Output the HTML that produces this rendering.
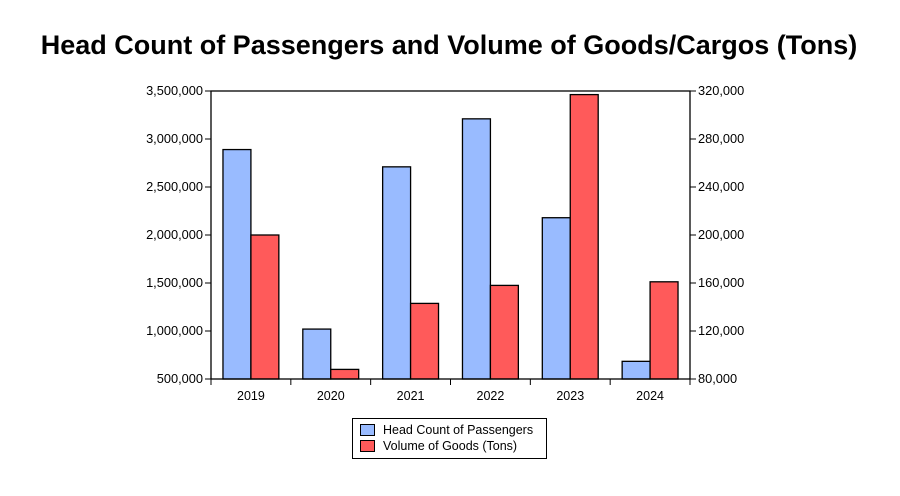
<!DOCTYPE html>
<html><head><meta charset="utf-8"><style>
body{margin:0;background:#fff;width:900px;height:491px;overflow:hidden;font-family:"Liberation Sans",Arial,sans-serif}
</style></head><body>
<svg id="chart" width="900" height="491" xmlns="http://www.w3.org/2000/svg" font-family="Liberation Sans, Arial, sans-serif">
<text x="449" y="54" text-anchor="middle" font-size="27" font-weight="bold">Head Count of Passengers and Volume of Goods/Cargos (Tons)</text>
<g id="plot"></g>
<g>
<rect x="352.5" y="418.5" width="194" height="40" fill="#fff" stroke="#000"/>
<rect x="360.5" y="424.5" width="14" height="11" fill="#99BBFF" stroke="#000"/>
<text x="383" y="434" font-size="12.5">Head Count of Passengers</text>
<rect x="360.5" y="440.5" width="14" height="11" fill="#FF5A5A" stroke="#000"/>
<text x="383" y="450" font-size="12.5">Volume of Goods (Tons)</text>
</g>
</svg>
<script>
const categories=["2019","2020","2021","2022","2023","2024"];
const passengers=[2890000,1020000,2710000,3210000,2180000,684000];
const goods=[200000,88000,143000,158000,317000,161000];
const leftTicks=[500000,1000000,1500000,2000000,2500000,3000000,3500000];
const rightTicks=[80000,120000,160000,200000,240000,280000,320000];
const NS="http://www.w3.org/2000/svg";
const g=document.getElementById('plot');
const L=211,R=690,T=91,B=379;
const yL=v=>B-(v-500000)/3000000*(B-T);
const yR=v=>B-(v-80000)/240000*(B-T);
const cw=(R-L)/categories.length;
const xC=i=>L+i*cw;
function mk(tag,attrs){const e=document.createElementNS(NS,tag);for(const k in attrs)e.setAttribute(k,attrs[k]);g.appendChild(e);return e;}
const fmt=v=>v.toLocaleString('en-US');
categories.forEach((c,i)=>{
  const bw=cw*0.35,x0=xC(i)+cw*0.15;
  const b=mk('rect',{x:x0,y:yL(passengers[i]),width:bw,height:B-yL(passengers[i]),fill:'#99BBFF',stroke:'#000','stroke-width':1.3});
  
  
  const r=mk('rect',{x:x0+bw,y:yR(goods[i]),width:bw,height:B-yR(goods[i]),fill:'#FF5A5A',stroke:'#000','stroke-width':1.3});
  
  
  const t=mk('text',{x:xC(i)+cw/2,y:B+21,'text-anchor':'middle','font-size':12.5});
  t.textContent=c;
  
  
});
for(let i=0;i<=categories.length;i++){mk('line',{x1:xC(i),x2:xC(i),y1:B,y2:B+6,stroke:'#000'});}
leftTicks.forEach(v=>{
  mk('line',{x1:L-6,x2:L,y1:yL(v),y2:yL(v),stroke:'#000'});
  const t=mk('text',{x:L-8,y:yL(v)+4,'text-anchor':'end','font-size':12.8});
  t.textContent=fmt(v);
  
  
});
rightTicks.forEach(v=>{
  mk('line',{x1:R,x2:R+6,y1:yR(v),y2:yR(v),stroke:'#000'});
  const t=mk('text',{x:R+8,y:yR(v)+4,'text-anchor':'start','font-size':12.8});
  t.textContent=fmt(v);
  
  
});
const fr=mk('rect',{x:L,y:T,width:R-L,height:B-T,fill:'none',stroke:'#000','stroke-width':1.3});


</script>
</body></html>
